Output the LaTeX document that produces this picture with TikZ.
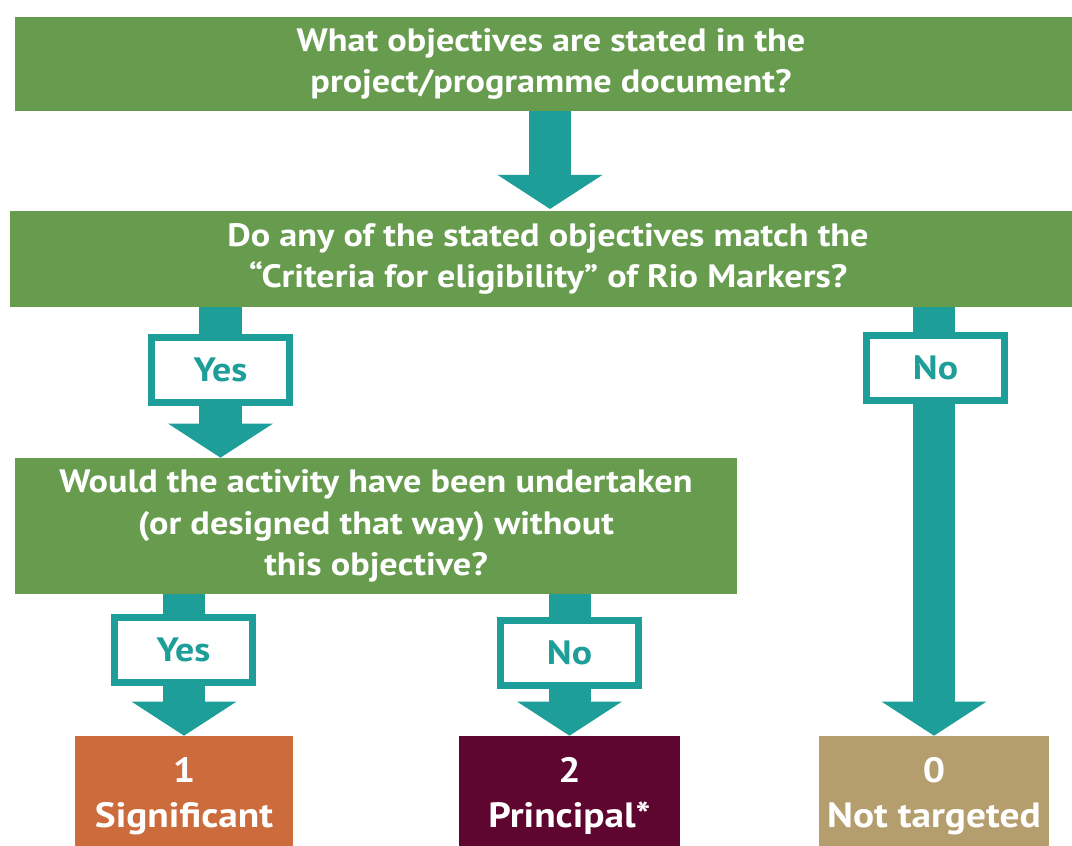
\documentclass[tikz,border=0pt]{standalone}
\usepackage{fontspec}
\setmainfont{PT Sans}[FakeStretch=1.12]
\usepackage{tikz}
\usetikzlibrary{arrows.meta,backgrounds}
\definecolor{qgreen}{HTML}{679C4E}
\definecolor{teal}{HTML}{1D9E98}
\definecolor{sigcol}{HTML}{CC6B3C}
\definecolor{princol}{HTML}{5E0530}
\definecolor{notcol}{HTML}{B49E6E}

\begin{document}
\begin{tikzpicture}[x=0.025cm,y=-0.025cm,
    qbox/.style={fill=qgreen,text=white,font=\bfseries\fontsize{23}{29.5}\selectfont,align=center,inner sep=0pt},
    rbox/.style={text=white,font=\bfseries\fontsize{25}{32}\selectfont,align=center,inner sep=0pt,minimum height=3cm},
    ans/.style={draw=teal,line width=0.175cm,fill=white,text=teal,font=\bfseries\fontsize{24}{28}\selectfont,minimum width=3.45cm,minimum height=1.6cm,inner sep=0pt},
    flow/.style={teal,line width=1.05cm,-{Triangle[width=2.575cm,length=0.85cm]}}]
      \useasboundingbox(0,0)rectangle(1072,846);
      \clip(0,0)rectangle(1072,846);
      \node[qbox,minimum width=26.8cm,minimum height=2.35cm](q1)at(551,64){What objectives are stated in the\\project/programme document?};
      \node[qbox,minimum width=26.9cm,minimum height=2.4cm](q2)at(548,259){Do any of the stated objectives match the\\``Criteria for eligibility'' of Rio Markers?};
      \node[qbox,minimum width=18.05cm,minimum height=3.4cm](q3)at(376,526){Would the activity have been undertaken\\(or designed that way) without\\this objective?};
      \node[rbox,fill=sigcol,minimum width=5.45cm](r1)at(184,796){1\\Significant};
      \node[rbox,fill=princol,minimum width=5.525cm](r2)at(569.5,796){2\\Principal*};
      \node[rbox,fill=notcol,minimum width=5.75cm](r0)at(934,796){0\\Not targeted};
      \node[ans](yes1)at(220.5,370){Yes};
      \node[ans](no1)at(935.5,368){No};
      \node[ans](yes2)at(183.5,650){Yes};
      \node[ans](no2)at(569.5,653){No};
      \begin{scope}[on background layer]
        \draw[flow](550,111)--(550,209);
        \draw[flow](q2.south-|yes1)--(q3.north-|yes1);
        \draw[flow](q2.south-|r0)--(r0.north);
        \draw[flow](q3.south-|r1)--(r1.north);
        \draw[flow](q3.south-|r2)--(r2.north);
      \end{scope}
\end{tikzpicture}
\end{document}
